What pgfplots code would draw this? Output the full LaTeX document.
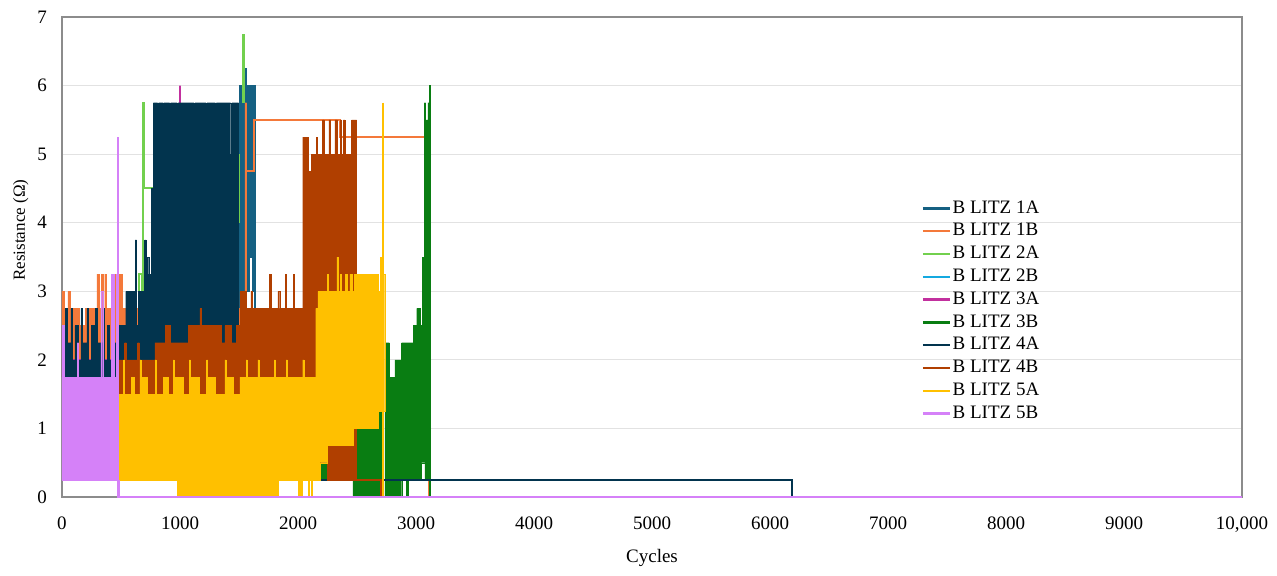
\documentclass[border=0pt]{standalone}
\usepackage{fontspec}
\setmainfont{Liberation Serif}
\usepackage{pgfplots}
\pgfplotsset{compat=1.18}
\definecolor{cOneA}{RGB}{21,96,130}
\definecolor{cOneB}{RGB}{244,121,58}
\definecolor{cTwoA}{RGB}{114,208,78}
\definecolor{cTwoB}{RGB}{20,169,224}
\definecolor{cThreeA}{RGB}{194,48,158}
\definecolor{cThreeB}{RGB}{9,125,18}
\definecolor{cFourA}{RGB}{2,52,78}
\definecolor{cFourB}{RGB}{176,63,0}
\definecolor{cFiveA}{RGB}{255,192,0}
\definecolor{cFiveB}{RGB}{213,129,248}
\definecolor{gridc}{RGB}{226,226,226}
\definecolor{framec}{RGB}{140,140,140}
\newcommand{\fs}{\fontsize{19bp}{23bp}\selectfont}
\newcommand{\fsy}{\fontsize{17bp}{20bp}\selectfont}
\begin{document}
\begin{tikzpicture}
\path[use as bounding box] (-62bp,-79bp) rectangle (1215bp,497bp);
\begin{axis}[
  at={(0,0)}, anchor=south west,
  width=1180bp, height=480bp, scale only axis,
  xmin=0, xmax=10000, ymin=0, ymax=7,
  clip=false,
  scaled x ticks=false, scaled y ticks=false,
  xtick={0,1000,...,10000},
  xticklabels={0,1000,2000,3000,4000,5000,6000,7000,8000,9000,{10,000}},
  ytick={0,1,...,7},
  ymajorgrids,
  major grid style={draw=gridc, line width=1bp},
  axis line style={draw=framec, line width=1.3bp},
  major tick length=0pt,
  /pgf/number format/assume math mode=true,
  tick label style={font=\fs, inner sep=0pt},
  xticklabel style={anchor=north, yshift=-20bp},
  yticklabel style={anchor=east, xshift=-15bp},
  xlabel={Cycles},
  xlabel style={font=\fs, at={(rel axis cs:0.5,-0.128)}, anchor=center},
  ylabel={Resistance (Ω)},
  ylabel style={font=\fsy, at={(rel axis cs:-0.035,0.556)}, anchor=center},
  legend style={at={(rel axis cs:0.7284,0.623)}, anchor=north west, draw=none, fill=none,
    font=\fs, inner sep=0pt, row sep=2.3bp,
    nodes={inner sep=1.5bp, text height=13.5bp, text depth=4bp}},
  legend cell align=left,
  legend image code/.code={\draw[#1] (0bp,0bp) -- (27bp,0bp);},
]
% legend images
\addlegendimage{cOneA, line width=2.5bp}\addlegendentry{B LITZ 1A}
\addlegendimage{cOneB, line width=2.5bp}\addlegendentry{B LITZ 1B}
\addlegendimage{cTwoA, line width=2.5bp}\addlegendentry{B LITZ 2A}
\addlegendimage{cTwoB, line width=2.5bp}\addlegendentry{B LITZ 2B}
\addlegendimage{cThreeA, line width=2.5bp}\addlegendentry{B LITZ 3A}
\addlegendimage{cThreeB, line width=2.5bp}\addlegendentry{B LITZ 3B}
\addlegendimage{cFourA, line width=2.5bp}\addlegendentry{B LITZ 4A}
\addlegendimage{cFourB, line width=2.5bp}\addlegendentry{B LITZ 4B}
\addlegendimage{cFiveA, line width=2.5bp}\addlegendentry{B LITZ 5A}
\addlegendimage{cFiveB, line width=2.5bp}\addlegendentry{B LITZ 5B}

% ---- B LITZ 1A ----
\addplot[forget plot, fill=cOneA, draw=cOneA, line width=0.4bp] coordinates {
 (1500,2.5)(1500,6.0)(1550,6.0)(1550,6.25)(1560,6.25)(1560,6.0)(1636,6.0)(1636,3.0)
 (1612,3.0)(1612,3.5)(1588,3.5)(1588,3.0)(1500,3.0)} --cycle;
\addplot[forget plot, cOneA, line width=2bp] coordinates {(1636,3.0)(1636,0)(10000,0)};

% ---- B LITZ 1B ----
\addplot[forget plot, fill=cOneB, draw=cOneB, line width=0.4bp] coordinates {
 (0,3.0)(18,3.0)(18,2.75)(50,2.75)(50,3.0)(68,3.0)(68,2.75)(145,2.75)(145,2.5)(200,2.5)
 (200,2.75)(295,2.75)(295,3.25)(315,3.25)(315,2.75)(335,2.75)(335,3.25)(350,3.25)(350,2.75)
 (362,2.75)(362,3.25)(378,3.25)(378,2.75)(430,2.75)(430,3.25)(450,3.25)(450,2.75)(455,2.75)
 (455,3.25)(510,3.25)(510,2.75)(570,2.75)(570,3.0)(585,3.0)(585,2.75)(1550,2.75)(1550,5.75)
 (1565,5.75)(1565,1.75)(0,1.75)} --cycle;
\addplot[forget plot, cOneB, line width=2bp] coordinates {
 (1565,4.75)(1625,4.75)(1625,5.5)(2355,5.5)(2355,5.25)(3113,5.25)(3113,0)(10000,0)};

% ---- B LITZ 2A ----
\addplot[forget plot, cTwoA, line width=2bp] coordinates {
 (0,2.0)(655,2.0)(655,3.25)(678,3.25)(678,2.25)(686,2.25)(686,5.75)(694,5.75)(694,4.5)
 (765,4.5)(765,2.0)(1496,2.0)(1496,0)(10000,0)};
\addplot[forget plot, cTwoA, line width=2bp] coordinates {(1502,4.0)(1502,5.0)};
\addplot[forget plot, cTwoA, line width=2.6bp] coordinates {(1540,5.75)(1540,6.75)};

% ---- B LITZ 2B ----
\addplot[forget plot, cTwoB, line width=2bp] coordinates {(0,2.0)(1490,2.0)(1490,0)(10000,0)};

% ---- B LITZ 3A ----
\addplot[forget plot, cThreeA, line width=2bp] coordinates {
 (0,2.0)(1000,2.0)(1000,6.0)(1000,2.0)(1490,2.0)(1490,0)(10000,0)};

% ---- B LITZ 3B ----
\addplot[forget plot, fill=cThreeB, draw=cThreeB, line width=0.4bp] coordinates {
 (2186,0.5)(2470,0.5)(2470,1.0)(2680,1.0)(2680,1.25)(2722,1.25)(2722,0)(2466,0)(2466,0.25)
 (2186,0.25)} --cycle;
\addplot[forget plot, fill=cThreeB, draw=cThreeB, line width=0.4bp] coordinates {
 (2737,2.25)(2775,2.25)(2775,1.75)(2820,1.75)(2820,2.0)(2878,2.0)(2878,2.25)(2977,2.25)
 (2977,2.5)(3006,2.5)(3006,2.75)(3034,2.75)(3034,2.5)(3056,2.5)(3056,3.5)(3070,3.5)
 (3070,5.75)(3082,5.75)(3082,5.5)(3100,5.5)(3100,5.75)(3113,5.75)(3113,6.0)(3124,6.0)
 (3124,0.25)(3076,0.25)(3076,0.5)(3048,0.5)(3048,0.25)(2935,0.25)(2935,0)(2921,0)
 (2921,0.25)(2879,0.25)(2879,0)(2737,0)} --cycle;
\addplot[forget plot, cThreeB, line width=2bp] coordinates {(3122,0.25)(3122,0)(10000,0)};

% ---- B LITZ 4A ----
\addplot[forget plot, fill=cFourA, draw=cFourA, line width=0.4bp] coordinates {
 (0,2.5)(30,2.5)(30,2.75)(45,2.75)(45,2.25)(75,2.25)(75,2.75)(90,2.75)(90,2.0)(110,2.0)
 (110,2.5)(140,2.5)(140,2.0)(160,2.0)(160,2.75)(175,2.75)(175,2.25)(210,2.25)(210,2.75)
 (225,2.75)(225,2.0)(250,2.0)(250,2.5)(280,2.5)(280,2.75)(300,2.75)(300,2.25)(345,2.25)
 (345,2.75)(360,2.75)(360,2.0)(385,2.0)(385,2.5)(400,2.5)(400,2.0)(425,2.0)(425,2.75)
 (440,2.75)(440,2.25)(480,2.25)(480,2.5)(540,2.5)(540,3.0)(620,3.0)(620,3.75)(632,3.75)
 (632,2.5)(645,2.5)(645,3.0)(700,3.0)(700,3.75)(712,3.75)(712,3.5)(735,3.5)(735,3.25)
 (760,3.25)(760,4.5)(775,4.5)(775,5.75)(810,5.75)(810,5.5)(818,5.5)(818,5.75)(860,5.75)
 (860,5.5)(866,5.5)(866,5.75)(912,5.75)(912,5.5)(920,5.5)(920,5.75)(975,5.75)(975,5.25)
 (985,5.25)(985,5.75)(1120,5.75)(1120,5.5)(1128,5.5)(1128,5.75)(1220,5.75)(1220,5.5)
 (1228,5.5)(1228,5.75)(1300,5.75)(1300,5.5)(1308,5.5)(1308,5.75)(1430,5.75)(1430,5.0)
 (1440,5.0)(1440,5.75)(1496,5.75)(1496,1.75)(0,1.75)} --cycle;
\addplot[forget plot, cFourA, line width=2bp] coordinates {
 (1496,1.0)(2186,1.0)(2186,0.25)(6184,0.25)(6184,0)(10000,0)};

% ---- B LITZ 4B ----
\addplot[forget plot, fill=cFourB, draw=cFourB, line width=0.4bp] coordinates {
 (480,2.0)(530,2.0)(530,2.25)(545,2.25)(545,2.0)(640,2.0)(640,2.25)(655,2.25)(655,2.0)
 (788,2.0)(788,2.25)(873,2.25)(873,2.5)(915,2.5)(915,2.25)(1070,2.25)(1070,2.5)(1169,2.5)
 (1169,2.75)(1183,2.75)(1183,2.5)(1353,2.5)(1353,2.25)(1381,2.25)(1381,2.5)(1438,2.5)
 (1438,2.25)(1480,2.25)(1480,2.5)(1508,2.5)(1508,3.0)(1560,3.0)(1560,2.75)(1600,2.75)
 (1600,3.0)(1615,3.0)(1615,2.75)(1760,2.75)(1760,3.25)(1772,3.25)(1772,2.75)(1830,2.75)
 (1830,3.0)(1845,3.0)(1845,2.75)(1890,2.75)(1890,3.25)(1902,3.25)(1902,2.75)(1960,2.75)
 (1960,3.25)(1972,3.25)(1972,2.75)(2040,2.75)(2040,5.25)(2088,5.25)(2088,4.75)(2116,4.75)
 (2116,5.0)(2155,5.0)(2155,5.25)(2165,5.25)(2165,5.0)(2208,5.0)(2208,5.5)(2220,5.5)
 (2220,5.0)(2262,5.0)(2262,5.5)(2276,5.5)(2276,5.0)(2312,5.0)(2312,5.5)(2333,5.5)
 (2333,5.0)(2356,5.0)(2356,5.5)(2368,5.5)(2368,5.0)(2384,5.0)(2384,5.5)(2398,5.5)
 (2398,5.0)(2455,5.0)(2455,5.5)(2497,5.5)(2497,0.25)(2248,0.25)(2248,0.5)(2186,0.5)
 (2186,1.25)(480,1.25)} --cycle;
\addplot[forget plot, cFourB, line width=2bp] coordinates {(2497,0.25)(2700,0.25)(2700,0)(10000,0)};

% ---- B LITZ 5A ----
\addplot[forget plot, fill=cFiveA, draw=cFiveA, line width=0.4bp] coordinates {
 (477,1.5)(520,1.5)(520,2.0)(528,2.0)(528,1.5)(590,1.5)(590,1.75)(610,1.75)(610,1.5)
 (660,1.5)(660,2.0)(668,2.0)(668,1.75)(720,1.75)(720,1.5)(790,1.5)(790,2.0)(798,2.0)
 (798,1.5)(860,1.5)(860,1.75)(900,1.75)(900,1.5)(943,1.5)(943,2.0)(951,2.0)(951,1.75)
 (1030,1.75)(1030,1.5)(1080,1.5)(1080,2.0)(1088,2.0)(1088,1.75)(1160,1.75)(1160,1.5)
 (1226,1.5)(1226,2.0)(1234,2.0)(1234,1.75)(1300,1.75)(1300,1.5)(1380,1.5)(1380,2.0)
 (1388,2.0)(1388,1.75)(1450,1.75)(1450,1.5)(1508,1.5)(1508,1.75)(1560,1.75)(1560,2.0)
 (1568,2.0)(1568,1.75)(1660,1.75)(1660,2.0)(1668,2.0)(1668,1.75)(1800,1.75)(1800,2.0)
 (1808,2.0)(1808,1.75)(1900,1.75)(1900,2.0)(1910,2.0)(1910,1.75)(2040,1.75)(2040,2.0)
 (2050,2.0)(2050,1.75)(2150,1.75)(2150,2.75)(2168,2.75)(2168,3.0)(2250,3.0)(2250,3.25)
 (2260,3.25)(2260,3.0)(2330,3.0)(2330,3.5)(2340,3.5)(2340,3.0)(2356,3.0)(2356,3.25)
 (2370,3.25)(2370,3.0)(2400,3.0)(2400,3.25)(2420,3.25)(2420,3.0)(2440,3.0)(2440,3.25)
 (2460,3.25)(2460,3.0)(2480,3.0)(2480,3.25)(2520,3.25)(2520,3.0)(2530,3.0)(2530,3.25)
 (2600,3.25)(2600,3.0)(2610,3.0)(2610,3.25)(2680,3.25)(2680,3.0)(2700,3.0)(2700,3.5)
 (2715,3.5)(2715,3.25)(2735,3.25)(2735,1.25)(2680,1.25)(2680,1.0)(2470,1.0)(2470,0.75)
 (2248,0.75)(2248,0.5)(2186,0.5)(2186,0.25)(2120,0.25)(2120,0)(2112,0)(2112,0.25)
 (2092,0.25)(2092,0)(2085,0)(2085,0.25)(2035,0.25)(2035,0)(2003,0)(2003,0.25)(1833,0.25)
 (1833,0)(980,0)(980,0.25)(477,0.25)} --cycle;
\addplot[forget plot, cFiveA, line width=2bp] coordinates {(2722,5.75)(2722,0)(10000,0)};

% ---- B LITZ 5B ----
\addplot[forget plot, fill=cFiveB, draw=cFiveB, line width=0.4bp] coordinates {
 (0,0.25)(0,2.5)(20,2.5)(20,1.75)(130,1.75)(130,2.25)(140,2.25)(140,1.75)(330,1.75)
 (330,3.0)(345,3.0)(345,1.75)(420,1.75)(420,3.25)(440,3.25)(440,1.75)(462,1.75)
 (462,3.25)(477,3.25)(477,0.25)} --cycle;
\addplot[forget plot, cFiveB, line width=2bp] coordinates {(472,3.0)(472,5.25)};
\addplot[forget plot, cFiveB, line width=2.5bp] coordinates {(477,0.25)(477,0)(10000,0)};
\end{axis}
\end{tikzpicture}
\end{document}
